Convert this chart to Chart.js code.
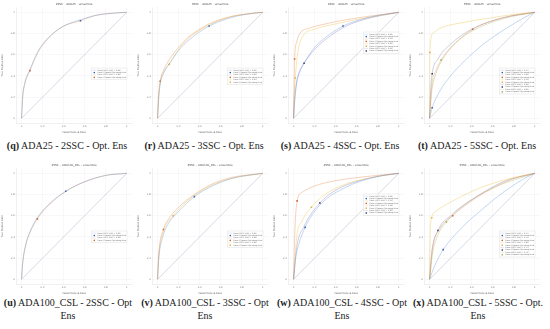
<!DOCTYPE html>
<html>
<head>
<meta charset="utf-8">
<script src="https://cdn.jsdelivr.net/npm/chart.js@4/dist/chart.umd.min.js"></script>
<style>
  body { margin: 0; background: #fff; width: 550px; height: 329px; position: relative; overflow: hidden; }
  .panel { position: absolute; width: 136px; height: 135px; }
  .cap { position: absolute; font-family: "Liberation Serif", serif; font-size: 10px; line-height: 12px; color: #222; white-space: nowrap; transform: translateX(-50%); }
</style>
</head>
<body>
<div class="panel" style="left:0;top:0"><canvas id="q"></canvas></div>
<div class="panel" style="left:136px;top:0"><canvas id="r"></canvas></div>
<div class="panel" style="left:272px;top:0"><canvas id="s"></canvas></div>
<div class="panel" style="left:408px;top:0"><canvas id="t"></canvas></div>
<div class="panel" style="left:0;top:161px"><canvas id="u"></canvas></div>
<div class="panel" style="left:136px;top:161px"><canvas id="v"></canvas></div>
<div class="panel" style="left:272px;top:161px"><canvas id="w"></canvas></div>
<div class="panel" style="left:408px;top:161px"><canvas id="x"></canvas></div>

<div class="cap" style="left:67px;top:140px"><b>(q)</b> ADA25 - 2SSC - Opt. Ens</div>
<div class="cap" style="left:204px;top:140px"><b>(r)</b> ADA25 - 3SSC - Opt. Ens</div>
<div class="cap" style="left:340px;top:140px"><b>(s)</b> ADA25 - 4SSC - Opt. Ens</div>
<div class="cap" style="left:477px;top:140px"><b>(t)</b> ADA25 - 5SSC - Opt. Ens</div>
<div class="cap" style="left:68px;top:297px"><b>(u)</b> ADA100_CSL - 2SSC - Opt</div>
<div class="cap" style="left:205px;top:297px"><b>(v)</b> ADA100_CSL - 3SSC - Opt</div>
<div class="cap" style="left:342px;top:297px"><b>(w)</b> ADA100_CSL - 4SSC - Opt</div>
<div class="cap" style="left:478px;top:297px"><b>(x)</b> ADA100_CSL - 5SSC - Opt.</div>
<div class="cap" style="left:68px;top:310px">Ens</div>
<div class="cap" style="left:205px;top:310px">Ens</div>
<div class="cap" style="left:342px;top:310px">Ens</div>
<div class="cap" style="left:478px;top:310px">Ens</div>

<script>
// ===== Data (FPR, TPR pairs) =====

const TICKS = [0, 0.2, 0.4, 0.6, 0.8, 1];
const LINE_COLORS = ["rgba(80,140,220,0.38)", "rgba(230,120,60,0.38)", "rgba(235,190,60,0.42)", "rgba(110,90,170,0.35)", "rgba(150,190,90,0.4)"];
const MARK_COLORS = ["#2a5aa8", "#c8642e", "#d9b040", "#2b2a66", "#8fb24a"];

// (q) ADA25 - 2SSC
const Q_ROC_1 = [[0,0],[0.01,0.2],[0.03,0.33],[0.08,0.46],[0.15,0.62],[0.2,0.7],[0.3,0.8],[0.4,0.87],[0.56,0.93],[0.7,0.97],[0.85,0.99],[1,1]];
const Q_ROC_2 = [[0,0],[0.01,0.19],[0.03,0.32],[0.08,0.45],[0.15,0.61],[0.2,0.69],[0.3,0.8],[0.4,0.87],[0.56,0.92],[0.7,0.97],[0.85,0.99],[1,1]];
const Q_OPT = [[0.56,0.92],[0.08,0.45]];
const Q_AUC = [0.84, 0.84];

// (r) ADA25 - 3SSC
const R_ROC_1 = [[0,0],[0.01,0.18],[0.025,0.32],[0.06,0.43],[0.11,0.51],[0.2,0.64],[0.3,0.74],[0.49,0.87],[0.7,0.95],[0.9,0.99],[1,1]];
const R_ROC_2 = [[0,0],[0.01,0.22],[0.025,0.35],[0.06,0.46],[0.11,0.55],[0.2,0.67],[0.3,0.77],[0.49,0.89],[0.7,0.96],[0.9,0.99],[1,1]];
const R_ROC_3 = [[0,0],[0.01,0.2],[0.025,0.33],[0.06,0.44],[0.11,0.51],[0.2,0.65],[0.3,0.76],[0.49,0.88],[0.7,0.96],[0.9,0.99],[1,1]];
const R_OPT = [[0.49,0.87],[0.025,0.35],[0.11,0.51]];
const R_AUC = [0.83, 0.86, 0.85];

// (s) ADA25 - 4SSC
const S_ROC_1 = [[0,0],[0.01,0.15],[0.03,0.33],[0.06,0.44],[0.1,0.52],[0.2,0.67],[0.3,0.76],[0.47,0.87],[0.6,0.92],[0.8,0.97],[1,1]];
const S_ROC_2 = [[0,0],[0.005,0.3],[0.01,0.56],[0.03,0.72],[0.06,0.8],[0.15,0.85],[0.3,0.89],[0.5,0.93],[0.7,0.96],[1,1]];
const S_ROC_3 = [[0,0],[0.008,0.25],[0.016,0.38],[0.04,0.62],[0.08,0.76],[0.2,0.84],[0.4,0.89],[0.7,0.95],[1,1]];
const S_ROC_4 = [[0,0],[0.01,0.18],[0.03,0.35],[0.06,0.45],[0.1,0.52],[0.2,0.65],[0.3,0.74],[0.5,0.87],[0.7,0.94],[1,1]];
const S_OPT = [[0.47,0.87],[0.01,0.56],[0.016,0.38],[0.1,0.52]];
const S_AUC = [0.82, 0.91, 0.89, 0.81];

// (t) ADA25 - 5SSC
const T_ROC_1 = [[0,0],[0.025,0.1],[0.1,0.26],[0.2,0.4],[0.3,0.51],[0.5,0.69],[0.7,0.83],[0.9,0.95],[1,1]];
const T_ROC_2 = [[0,0],[0.02,0.25],[0.06,0.42],[0.12,0.55],[0.2,0.66],[0.41,0.84],[0.6,0.92],[0.8,0.97],[1,1]];
const T_ROC_3 = [[0,0],[0.003,0.62],[0.03,0.8],[0.1,0.85],[0.3,0.9],[0.6,0.95],[0.8,0.98],[1,1]];
const T_ROC_4 = [[0,0],[0.01,0.25],[0.025,0.42],[0.08,0.56],[0.2,0.7],[0.4,0.84],[0.7,0.95],[1,1]];
const T_ROC_5 = [[0,0],[0.02,0.3],[0.06,0.45],[0.11,0.55],[0.2,0.67],[0.4,0.82],[0.7,0.94],[1,1]];
const T_OPT = [[0.025,0.1],[0.41,0.84],[0.003,0.62],[0.025,0.42],[0.11,0.55]];
const T_AUC = [0.65, 0.82, 0.91, 0.82, 0.81];

// (u) ADA100_CSL - 2SSC
const U_ROC_1 = [[0,0],[0.01,0.15],[0.04,0.33],[0.08,0.45],[0.15,0.58],[0.25,0.7],[0.42,0.83],[0.6,0.92],[0.8,0.98],[1,1]];
const U_ROC_2 = [[0,0],[0.01,0.14],[0.04,0.32],[0.08,0.44],[0.15,0.57],[0.25,0.69],[0.42,0.83],[0.6,0.92],[0.8,0.98],[1,1]];
const U_OPT = [[0.42,0.83],[0.15,0.57]];
const U_AUC = [0.80, 0.80];

// (v) ADA100_CSL - 3SSC
const V_ROC_1 = [[0,0],[0.01,0.18],[0.05,0.4],[0.1,0.52],[0.2,0.64],[0.35,0.78],[0.5,0.87],[0.7,0.95],[1,1]];
const V_ROC_2 = [[0,0],[0.01,0.22],[0.056,0.47],[0.1,0.56],[0.2,0.68],[0.35,0.8],[0.5,0.89],[0.7,0.96],[1,1]];
const V_ROC_3 = [[0,0],[0.01,0.2],[0.05,0.43],[0.15,0.6],[0.25,0.71],[0.35,0.79],[0.5,0.88],[0.7,0.95],[1,1]];
const V_OPT = [[0.35,0.78],[0.056,0.47],[0.15,0.6]];
const V_AUC = [0.81, 0.84, 0.82];

// (w) ADA100_CSL - 4SSC
const W_ROC_1 = [[0,0],[0.02,0.2],[0.05,0.33],[0.11,0.49],[0.25,0.7],[0.5,0.87],[0.8,0.97],[1,1]];
const W_ROC_2 = [[0,0],[0.01,0.4],[0.034,0.74],[0.08,0.82],[0.2,0.88],[0.4,0.93],[0.7,0.97],[1,1]];
const W_ROC_3 = [[0,0],[0.03,0.4],[0.08,0.55],[0.17,0.68],[0.3,0.8],[0.5,0.9],[0.8,0.97],[1,1]];
const W_ROC_4 = [[0,0],[0.03,0.3],[0.1,0.5],[0.25,0.72],[0.4,0.84],[0.7,0.95],[1,1]];
const W_OPT = [[0.11,0.49],[0.034,0.74],[0.17,0.68],[0.25,0.72]];
const W_AUC = [0.81, 0.91, 0.84, 0.80];

// (x) ADA100_CSL - 5SSC
const X_ROC_1 = [[0,0],[0.05,0.13],[0.13,0.28],[0.3,0.48],[0.5,0.66],[0.7,0.82],[0.9,0.95],[1,1]];
const X_ROC_2 = [[0,0],[0.03,0.3],[0.1,0.48],[0.22,0.6],[0.4,0.74],[0.6,0.86],[0.8,0.95],[1,1]];
const X_ROC_3 = [[0,0],[0.005,0.4],[0.02,0.58],[0.06,0.64],[0.15,0.7],[0.3,0.78],[0.5,0.87],[0.8,0.96],[1,1]];
const X_ROC_4 = [[0,0],[0.02,0.25],[0.08,0.46],[0.2,0.6],[0.4,0.75],[0.7,0.92],[1,1]];
const X_ROC_5 = [[0,0],[0.03,0.25],[0.08,0.42],[0.16,0.54],[0.3,0.68],[0.6,0.86],[1,1]];
const X_OPT = [[0.13,0.28],[0.22,0.6],[0.02,0.58],[0.08,0.46],[0.16,0.54]];
const X_AUC = [0.67, 0.76, 0.80, 0.77, 0.74];

const PANELS = [
  { id: "q", title: "2SSC \u2013 ADA25 \u2013 ensemble", rocs: [Q_ROC_1, Q_ROC_2], opt: Q_OPT, auc: Q_AUC, legendTop: 68 },
  { id: "r", title: "3SSC \u2013 ADA25 \u2013 ensemble", rocs: [R_ROC_1, R_ROC_2, R_ROC_3], opt: R_OPT, auc: R_AUC, legendTop: 68 },
  { id: "s", title: "4SSC \u2013 ADA25 \u2013 ensemble", rocs: [S_ROC_1, S_ROC_2, S_ROC_3, S_ROC_4], opt: S_OPT, auc: S_AUC, legendTop: 32 },
  { id: "t", title: "5SSC \u2013 ADA25 \u2013 ensemble", rocs: [T_ROC_1, T_ROC_2, T_ROC_3, T_ROC_4, T_ROC_5], opt: T_OPT, auc: T_AUC, legendTop: 68 },
  { id: "u", title: "2SSC \u2013 ADA100_CSL \u2013 ensemble", rocs: [U_ROC_1, U_ROC_2], opt: U_OPT, auc: U_AUC, legendTop: 70 },
  { id: "v", title: "3SSC \u2013 ADA100_CSL \u2013 ensemble", rocs: [V_ROC_1, V_ROC_2, V_ROC_3], opt: V_OPT, auc: V_AUC, legendTop: 70 },
  { id: "w", title: "4SSC \u2013 ADA100_CSL \u2013 ensemble", rocs: [W_ROC_1, W_ROC_2, W_ROC_3, W_ROC_4], opt: W_OPT, auc: W_AUC, legendTop: 33 },
  { id: "x", title: "5SSC \u2013 ADA100_CSL \u2013 ensemble", rocs: [X_ROC_1, X_ROC_2, X_ROC_3, X_ROC_4, X_ROC_5], opt: X_OPT, auc: X_AUC, legendTop: 70 }
];

// ===== Plugins: small title + matplotlib-like legend box =====

const panelTitle = {
  id: "panelTitle",
  afterDraw(chart, args, opts) {
    const ctx = chart.ctx, a = chart.chartArea;
    ctx.save();
    ctx.font = "2.8px 'DejaVu Sans'";
    ctx.fillStyle = "#555";
    ctx.textAlign = "center";
    ctx.textBaseline = "middle";
    ctx.fillText(opts.text, (a.left + a.right) / 2, 4);
    ctx.restore();
  }
};

const rocLegend = {
  id: "rocLegend",
  afterDraw(chart, args, opts) {
    const ctx = chart.ctx, a = chart.chartArea;
    const items = opts.items || [];
    const rowH = 2.4, pad = 1, sample = 4;
    ctx.save();
    ctx.font = "1.8px 'DejaVu Sans'";
    let tw = 0;
    items.forEach(it => { tw = Math.max(tw, ctx.measureText(it.label).width); });
    const bw = tw + sample + pad * 3, bh = items.length * rowH + pad * 2;
    const x0 = a.right - 5 - bw, y0 = opts.top;
    ctx.fillStyle = "rgba(255,255,255,0.9)";
    ctx.fillRect(x0, y0, bw, bh);
    ctx.strokeStyle = "#d8d8d8";
    ctx.lineWidth = 0.4;
    ctx.strokeRect(x0, y0, bw, bh);
    items.forEach((it, i) => {
      const cy = y0 + pad + rowH * (i + 0.5);
      if (it.type === "line") {
        ctx.strokeStyle = it.color;
        ctx.lineWidth = 0.5;
        ctx.beginPath();
        ctx.moveTo(x0 + pad, cy);
        ctx.lineTo(x0 + pad + sample, cy);
        ctx.stroke();
      } else {
        ctx.fillStyle = it.color;
        ctx.fillRect(x0 + pad + sample / 2 - 0.7, cy - 0.7, 1.4, 1.4);
      }
      ctx.fillStyle = "#666";
      ctx.textBaseline = "middle";
      ctx.fillText(it.label, x0 + pad * 2 + sample, cy);
    });
    ctx.restore();
  }
};

function toXY(pairs) {
  return pairs.map(p => ({ x: p[0], y: p[1] }));
}

function buildPanel(p) {
  const datasets = [];
  const items = [];

  // chance diagonal
  datasets.push({
    type: "line",
    data: toXY([[0, 0], [1, 1]]),
    borderColor: "rgba(160,170,195,0.55)",
    borderWidth: 0.8,
    pointRadius: 0
  });

  p.rocs.forEach((roc, i) => {
    datasets.push({
      type: "line",
      data: toXY(roc),
      borderColor: LINE_COLORS[i],
      borderWidth: 0.9,
      pointRadius: 0,
      cubicInterpolationMode: "monotone"
    });
    items.push({ type: "line", color: LINE_COLORS[i], label: "Class " + i + " ROC (AUC = " + p.auc[i].toFixed(2) + ")" });
    items.push({ type: "point", color: MARK_COLORS[i], label: "Class " + i + " Optimal Operating Point" });
  });

  p.opt.forEach((pt, i) => {
    datasets.push({
      type: "scatter",
      data: toXY([pt]),
      backgroundColor: MARK_COLORS[i],
      borderColor: MARK_COLORS[i],
      borderWidth: 0,
      pointRadius: 1.1,
      pointStyle: "rect"
    });
  });

  const axisCommon = {
    type: "linear",
    min: -0.05,
    max: 1.05,
    afterBuildTicks: s => { s.ticks = TICKS.map(v => ({ value: v })); },
    grid: { color: "#f0f0f0", lineWidth: 0.5, drawTicks: false },
    border: { color: "#e0e0e0", width: 0.5 },
    ticks: { font: { size: 2.5, family: "DejaVu Sans" }, color: "#777", padding: 1.5, callback: v => String(v) }
  };

  new Chart(document.getElementById(p.id), {
    type: "line",
    data: { datasets },
    options: {
      responsive: true,
      maintainAspectRatio: false,
      animation: false,
      events: [],
      layout: { padding: { top: 7, right: 2.3, left: 0, bottom: 0 } },
      plugins: {
        legend: { display: false },
        tooltip: { enabled: false },
        panelTitle: { text: p.title },
        rocLegend: { items, top: p.legendTop }
      },
      scales: {
        x: {
          ...axisCommon,
          position: "bottom",
          title: { display: true, text: "False Positive Rate", font: { size: 2.5, family: "DejaVu Sans" }, color: "#666", padding: 1 },
          afterFit: s => { s.height = 11.4; }
        },
        y: {
          ...axisCommon,
          title: { display: true, text: "True Positive Rate", font: { size: 2.5, family: "DejaVu Sans" }, color: "#666", padding: 1 },
          afterFit: s => { s.width = 16.3; }
        }
      }
    },
    plugins: [panelTitle, rocLegend]
  });
}

PANELS.forEach(buildPanel);
</script>
</body>
</html>
